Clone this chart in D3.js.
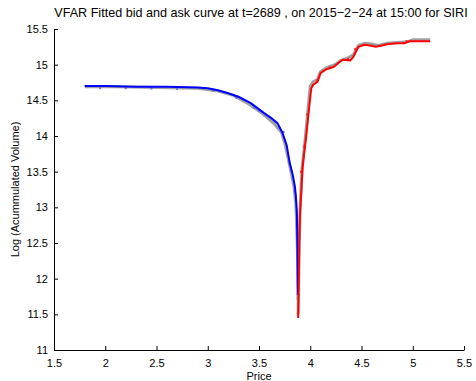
<!DOCTYPE html>
<html>
<head>
<meta charset="utf-8">
<script src="https://cdn.jsdelivr.net/npm/d3@7"></script>
<style>
  body { margin: 0; background: #fff; }
  text { font-family: "Liberation Sans", Arial, sans-serif; fill: #000; }
</style>
</head>
<body>
<div id="chart"></div>
<script>
// Bid curve (fitted)
const bidPrice = [1.80, 2.00, 2.30, 2.60, 2.90, 3.00, 3.10, 3.20, 3.30, 3.42, 3.55, 3.62, 3.68, 3.73, 3.77, 3.80, 3.83, 3.85, 3.86, 3.87, 3.875, 3.88];
const bidFit   = [14.70, 14.70, 14.69, 14.69, 14.68, 14.67, 14.64, 14.60, 14.55, 14.46, 14.32, 14.25, 14.18, 14.04, 13.87, 13.62, 13.45, 13.29, 13.15, 12.90, 12.40, 11.77];
// Ask curve (fitted)
const askPrice = [3.882, 3.888, 3.893, 3.90, 3.91, 3.925, 3.94, 3.96, 3.99, 4.01, 4.03, 4.07, 4.10, 4.15, 4.23, 4.28, 4.32, 4.39, 4.42, 4.47, 4.53, 4.58, 4.64, 4.70, 4.76, 4.85, 4.92, 4.97, 5.05, 5.17];
const askFit   = [11.45, 11.95, 12.50, 12.90, 13.15, 13.55, 13.75, 13.99, 14.41, 14.67, 14.72, 14.76, 14.88, 14.93, 14.97, 15.03, 15.07, 15.06, 15.11, 15.25, 15.28, 15.27, 15.25, 15.27, 15.29, 15.30, 15.30, 15.33, 15.33, 15.33];
// Raw observed curve (gray)
const rawBidPrice = [1.80, 2.10, 2.50, 2.90, 3.10, 3.25, 3.40, 3.52, 3.65, 3.72, 3.76, 3.80, 3.84, 3.86, 3.875, 3.88];
const rawBidVol   = [14.69, 14.69, 14.68, 14.67, 14.63, 14.57, 14.45, 14.33, 14.17, 14.05, 13.85, 13.58, 13.30, 13.05, 12.40, 11.70];
const rawAskPrice = [3.882, 3.89, 3.90, 3.92, 3.95, 3.98, 4.00, 4.03, 4.07, 4.10, 4.16, 4.24, 4.30, 4.36, 4.42, 4.47, 4.53, 4.60, 4.66, 4.75, 4.85, 4.95, 5.00, 5.10, 5.17];
const rawAskVol   = [11.50, 12.20, 12.95, 13.55, 13.95, 14.40, 14.70, 14.76, 14.79, 14.90, 14.96, 15.00, 15.06, 15.09, 15.14, 15.27, 15.30, 15.29, 15.27, 15.30, 15.31, 15.32, 15.35, 15.35, 15.35];
// Scattered observation dots
const dotBidPrice = [1.95, 2.2, 2.45, 2.7, 3.05, 3.28, 3.45, 3.50, 3.70, 3.74, 3.82, 3.85, 3.87];
const dotBidVol   = [14.685, 14.685, 14.68, 14.675, 14.655, 14.55, 14.41, 14.37, 14.13, 14.07, 13.52, 13.25, 12.75];
const dotAskPrice = [3.92, 3.95, 3.98, 4.08, 4.20, 4.38, 4.45, 4.95];
const dotAskVol   = [13.50, 13.85, 14.30, 14.78, 14.96, 15.08, 15.22, 15.33];

const xTicks = [1.5, 2, 2.5, 3, 3.5, 4, 4.5, 5, 5.5];
const yTicks = [11, 11.5, 12, 12.5, 13, 13.5, 14, 14.5, 15, 15.5];

const width = 476, height = 381;
const margin = { left: 54, right: 12, top: 29, bottom: 31 };

const svg = d3.select("#chart").append("svg")
  .attr("width", width)
  .attr("height", height);

const x = d3.scaleLinear().domain([1.5, 5.5]).range([margin.left, width - margin.right]);
const y = d3.scaleLinear().domain([11, 15.5]).range([height - margin.bottom, margin.top]);

const fmt = d => String(d);

// Axes (MATLAB style, box off, inward ticks)
svg.append("g")
  .attr("transform", `translate(0,${y(11)})`)
  .call(d3.axisBottom(x).tickValues(xTicks).tickFormat(fmt).tickSizeInner(-4).tickSizeOuter(0).tickPadding(9))
  .call(g => g.selectAll("text").attr("font-size", 11))
  .call(g => g.select(".domain").attr("stroke", "#000"));

svg.append("g")
  .attr("transform", `translate(${x(1.5)},0)`)
  .call(d3.axisLeft(y).tickValues(yTicks).tickFormat(fmt).tickSizeInner(-4).tickSizeOuter(0).tickPadding(6))
  .call(g => g.selectAll("text").attr("font-size", 11))
  .call(g => g.select(".domain").attr("stroke", "#000"));

const line = d3.line().x(d => x(d[0])).y(d => y(d[1]));
const zip = (a, b) => a.map((v, i) => [v, b[i]]);

// Raw data in gray
[[rawBidPrice, rawBidVol], [rawAskPrice, rawAskVol]].forEach(([p, v]) => {
  svg.append("path")
    .attr("d", line(zip(p, v)))
    .attr("fill", "none")
    .attr("stroke", "#a0a0a0")
    .attr("stroke-width", 3);
});

// Observation dots
svg.selectAll(".bdot").data(zip(dotBidPrice, dotBidVol)).join("rect")
  .attr("x", d => x(d[0]) - 1).attr("y", d => y(d[1]))
  .attr("width", 2).attr("height", 2).attr("fill", "#6070e8");
svg.selectAll(".adot").data(zip(dotAskPrice, dotAskVol)).join("rect")
  .attr("x", d => x(d[0]) - 2).attr("y", d => y(d[1]) - 1)
  .attr("width", 2).attr("height", 2).attr("fill", "#ff2020");

// Fitted curves
svg.append("path")
  .attr("d", line(zip(bidPrice, bidFit)))
  .attr("fill", "none").attr("stroke", "#0000ff").attr("stroke-width", 2);
svg.append("path")
  .attr("d", line(zip(askPrice, askFit)))
  .attr("fill", "none").attr("stroke", "#ff0000").attr("stroke-width", 2);

// Labels
svg.append("text")
  .attr("x", (x(1.5) + x(5.5)) / 2 + 2).attr("y", 17)
  .attr("text-anchor", "middle").attr("font-size", 12.6)
  .text("VFAR Fitted bid and ask curve at t=2689 , on 2015\u22122\u221224 at 15:00 for SIRI");

svg.append("text")
  .attr("x", (x(1.5) + x(5.5)) / 2).attr("y", 380)
  .attr("text-anchor", "middle").attr("font-size", 11)
  .text("Price");

svg.append("text")
  .attr("transform", `translate(19,${(y(11) + y(15.5)) / 2}) rotate(-90)`)
  .attr("text-anchor", "middle").attr("font-size", 11)
  .text("Log (Acummulated Volume)");
</script>
</body>
</html>
